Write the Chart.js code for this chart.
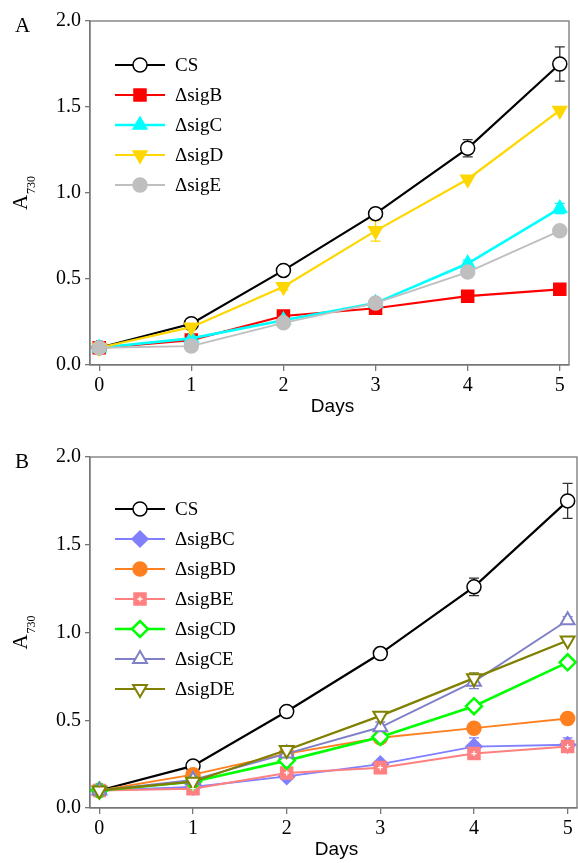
<!DOCTYPE html>
<html><head><meta charset="utf-8">
<script src="https://cdn.jsdelivr.net/npm/chart.js@4.4.1/dist/chart.umd.min.js"></script>
<style>
body{margin:0;background:#fff;width:578px;height:863px;overflow:hidden}
.p{position:relative;width:578px}
</style></head>
<body>
<div class="p" style="height:432px"><canvas id="a"></canvas></div>
<div class="p" style="height:431px"><canvas id="b"></canvas></div>
<script>
const days = [0, 1, 2, 3, 4, 5];
const yTicks = [0, 0.5, 1.0, 1.5, 2.0];

// Panel A
const csA   = [0.10, 0.24, 0.55, 0.88, 1.26, 1.75];
const csErr = [0, 0.02, 0.02, 0.03, 0.05, 0.10];
const sigB  = [0.10, 0.145, 0.285, 0.33, 0.40, 0.44];
const sigC  = [0.10, 0.155, 0.26, 0.36, 0.59, 0.91];
const sigCErr = [0, 0, 0, 0, 0.02, 0.03];
const sigD  = [0.10, 0.22, 0.455, 0.78, 1.08, 1.48];
const sigDErr = [0, 0, 0.02, 0.06, 0, 0];
const sigE  = [0.10, 0.11, 0.245, 0.36, 0.54, 0.78];

// Panel B
const csB    = [0.10, 0.24, 0.55, 0.88, 1.26, 1.75];
const sigBC  = [0.10, 0.12, 0.18, 0.25, 0.35, 0.36];
const sigBCErr = [0, 0, 0, 0, 0.05, 0.04];
const sigBD  = [0.10, 0.19, 0.31, 0.40, 0.455, 0.51];
const sigBDErr = [0, 0, 0, 0, 0, 0.03];
const sigBE  = [0.10, 0.11, 0.20, 0.23, 0.31, 0.35];
const sigBEErr = [0, 0, 0, 0, 0, 0.02];
const sigCD  = [0.10, 0.15, 0.27, 0.405, 0.58, 0.83];
const sigCE  = [0.10, 0.16, 0.31, 0.46, 0.72, 1.07];
const sigCEErr = [0, 0, 0, 0.03, 0.04, 0.02];
const sigDE  = [0.10, 0.15, 0.33, 0.525, 0.74, 0.955];
const sigDEErr = [0, 0, 0, 0, 0.03, 0];

function pts(vals){ return days.map((d,i)=>({x:d, y:vals[i]})); }

function ds(label, vals, color, opts){
  const o = Object.assign({
    label, data: pts(vals), borderColor: color, backgroundColor: color,
    pointBackgroundColor: color, pointBorderColor: color,
    borderWidth: 2.2, pointRadius: 7, pointBorderWidth: 1.5, pointStyle: 'circle',
    pointRotation: 0, tension: 0, clip: false, fill: false
  }, opts || {});
  o.pointHoverRadius = o.pointRadius;
  return o;
}

const SERIF = "'Liberation Serif','Times New Roman',serif";
const SANS = "'Liberation Sans',Arial,sans-serif";

const deco = {
  id: 'deco',
  beforeDatasetsDraw(chart){
    const ctx = chart.ctx, xs = chart.scales.x, ys = chart.scales.y;
    ctx.save();
    chart.data.datasets.forEach(d => {
      if (!d.errors) return;
      ctx.strokeStyle = d.errColor || d.borderColor;
      ctx.lineWidth = 1.3;
      d.data.forEach((p, i) => {
        const e = d.errors[i];
        if (!e) return;
        const x = xs.getPixelForValue(p.x);
        const y1 = ys.getPixelForValue(p.y + e), y2 = ys.getPixelForValue(p.y - e);
        ctx.beginPath();
        ctx.moveTo(x, y1); ctx.lineTo(x, y2);
        ctx.moveTo(x - 5, y1); ctx.lineTo(x + 5, y1);
        ctx.moveTo(x - 5, y2); ctx.lineTo(x + 5, y2);
        ctx.stroke();
      });
    });
    ctx.restore();
  },
  afterDatasetsDraw(chart){
    const ctx = chart.ctx, ca = chart.chartArea, xs = chart.scales.x, ys = chart.scales.y;
    const cfg = chart.options.plugins.deco;
    ctx.save();
    chart.data.datasets.forEach(d => {
      if (!d.cross) return;
      ctx.strokeStyle = '#fff'; ctx.lineWidth = 1.3;
      d.data.forEach(p => {
        const x = xs.getPixelForValue(p.x), y = ys.getPixelForValue(p.y);
        ctx.beginPath();
        ctx.moveTo(x - 2.5, y); ctx.lineTo(x + 2.5, y);
        ctx.moveTo(x, y - 2.5); ctx.lineTo(x, y + 2.5);
        ctx.stroke();
      });
    });
    ctx.strokeStyle = '#777'; ctx.lineWidth = 1.3;
    ctx.strokeRect(ca.left, ca.top, ca.right - ca.left, ca.bottom - ca.top);
    const lx0 = 115, lx1 = 165, mx = 140, tx = 175;
    chart.data.datasets.forEach((d, i) => {
      const y = ca.top + cfg.legendTop + i * 30;
      ctx.strokeStyle = d.borderColor; ctx.lineWidth = d.borderWidth;
      ctx.beginPath(); ctx.moveTo(lx0, y); ctx.lineTo(lx1, y); ctx.stroke();
      ctx.fillStyle = d.pointBackgroundColor; ctx.strokeStyle = d.pointBorderColor;
      ctx.lineWidth = d.pointBorderWidth;
      Chart.helpers.drawPoint(ctx, {pointStyle: d.pointStyle, radius: d.pointRadius,
        rotation: d.pointRotation, borderWidth: d.pointBorderWidth}, mx, y);
      if (d.cross) {
        ctx.strokeStyle = '#fff'; ctx.lineWidth = 1.3;
        ctx.beginPath();
        ctx.moveTo(mx - 2.5, y); ctx.lineTo(mx + 2.5, y);
        ctx.moveTo(mx, y - 2.5); ctx.lineTo(mx, y + 2.5);
        ctx.stroke();
      }
      ctx.fillStyle = '#000';
      ctx.font = '19px ' + SERIF;
      ctx.textBaseline = 'middle'; ctx.textAlign = 'left';
      ctx.fillText(d.label, tx, y + 1);
    });
    ctx.restore();
  },
  afterDraw(chart){
    const ctx = chart.ctx, ca = chart.chartArea;
    const cfg = chart.options.plugins.deco;
    ctx.save();
    ctx.fillStyle = '#000';
    ctx.font = '21px ' + SERIF; ctx.textAlign = 'left'; ctx.textBaseline = 'alphabetic';
    ctx.fillText(cfg.letter, 15, cfg.letterY);
    ctx.font = '19px ' + SANS; ctx.textAlign = 'center';
    ctx.fillText('Days', (ca.left + ca.right) / 2 + 3, ca.bottom + cfg.daysOffset);
    ctx.translate(27, (ca.top + ca.bottom) / 2);
    ctx.rotate(-Math.PI / 2);
    ctx.font = '21px ' + SERIF;
    const wA = ctx.measureText('A').width;
    ctx.font = '12px ' + SERIF;
    const wS = ctx.measureText('730').width;
    const start = -(wA + wS + 1) / 2;
    ctx.textAlign = 'left';
    ctx.font = '21px ' + SERIF;
    ctx.fillText('A', start, 0);
    ctx.font = '12px ' + SERIF;
    ctx.fillText('730', start + wA + 1, 8);
    ctx.restore();
  }
};

function makeChart(id, datasets, opt){
  return new Chart(document.getElementById(id), {
    type: 'line',
    data: { datasets },
    plugins: [deco],
    options: {
      responsive: true, maintainAspectRatio: false, animation: false,
      layout: { autoPadding: false, padding: { top: opt.padTop, right: opt.padRight, left: 0, bottom: 0 } },
      plugins: {
        legend: { display: false }, tooltip: { enabled: false },
        deco: { letter: opt.letter, letterY: opt.letterY, legendTop: opt.legendTop, daysOffset: opt.daysOffset }
      },
      scales: {
        x: {
          type: 'linear', min: -0.1, max: 5.1,
          afterBuildTicks: s => { s.ticks = days.map(v => ({ value: v })); },
          afterFit: s => { s.height = opt.xHeight; s.paddingLeft = 0; s.paddingRight = 0; },
          ticks: { font: { family: SERIF, size: 20 }, color: '#000', padding: 3,
                   callback: v => String(v) },
          grid: { drawOnChartArea: false, drawTicks: true, tickLength: 6, color: '#777', lineWidth: 1.3 },
          border: { display: true, color: '#777', width: 1.3 }
        },
        y: {
          min: 0, max: 2,
          afterBuildTicks: s => { s.ticks = yTicks.map(v => ({ value: v })); },
          afterFit: s => { s.width = 90; s.paddingTop = 0; s.paddingBottom = 0; },
          ticks: { font: { family: SERIF, size: 20 }, color: '#000', padding: 4,
                   callback: v => Number(v).toFixed(1) },
          grid: { drawOnChartArea: false, drawTicks: true, tickLength: 5, color: '#777', lineWidth: 1.3 },
          border: { display: true, color: '#777', width: 1.3 }
        }
      }
    }
  });
}

function withOrder(list){ list.forEach((d, i) => { d.order = list.length - i; }); return list; }

const dsA = withOrder([
  ds('CS', csA, '#000000', { pointBackgroundColor: '#ffffff', errors: csErr, errColor: '#333' }),
  ds('ΔsigB', sigB, '#ff0000', { pointStyle: 'rect', pointRadius: 8.5 }),
  ds('ΔsigC', sigC, '#00ffff', { pointStyle: 'triangle', pointRadius: 8, borderWidth: 2.6, errors: sigCErr }),
  ds('ΔsigD', sigD, '#ffd700', { pointStyle: 'triangle', pointRotation: 180, pointRadius: 8, errors: sigDErr }),
  ds('ΔsigE', sigE, '#bfbfbf', { borderWidth: 1.9 })
]);

const dsB = withOrder([
  ds('CS', csB, '#000000', { pointBackgroundColor: '#ffffff', errors: csErr, errColor: '#333' }),
  ds('ΔsigBC', sigBC, '#8080ff', { pointStyle: 'rectRot', pointRadius: 8, borderWidth: 1.9, errors: sigBCErr }),
  ds('ΔsigBD', sigBD, '#ff8020', { borderWidth: 1.9, errors: sigBDErr }),
  ds('ΔsigBE', sigBE, '#ff8080', { pointStyle: 'rect', pointRadius: 8.5, borderWidth: 2, errors: sigBEErr, cross: true }),
  ds('ΔsigCD', sigCD, '#00ff00', { pointStyle: 'rectRot', pointRadius: 8, pointBackgroundColor: '#ffffff', pointBorderWidth: 2.5, borderWidth: 2.6 }),
  ds('ΔsigCE', sigCE, '#8080c8', { pointStyle: 'triangle', pointRadius: 8, pointBackgroundColor: '#ffffff', pointBorderWidth: 2, borderWidth: 1.9, errors: sigCEErr }),
  ds('ΔsigDE', sigDE, '#808000', { pointStyle: 'triangle', pointRotation: 180, pointRadius: 8, pointBackgroundColor: '#ffffff', pointBorderWidth: 2, borderWidth: 2.2, errors: sigDEErr })
]);

makeChart('a', dsA, { padTop: 21, padRight: 9, xHeight: 67, letter: 'A', letterY: 32, legendTop: 44, daysOffset: 47 });
makeChart('b', dsB, { padTop: 25, padRight: 1, xHeight: 55, letter: 'B', letterY: 36, legendTop: 52, daysOffset: 47 });
</script>
</body></html>
